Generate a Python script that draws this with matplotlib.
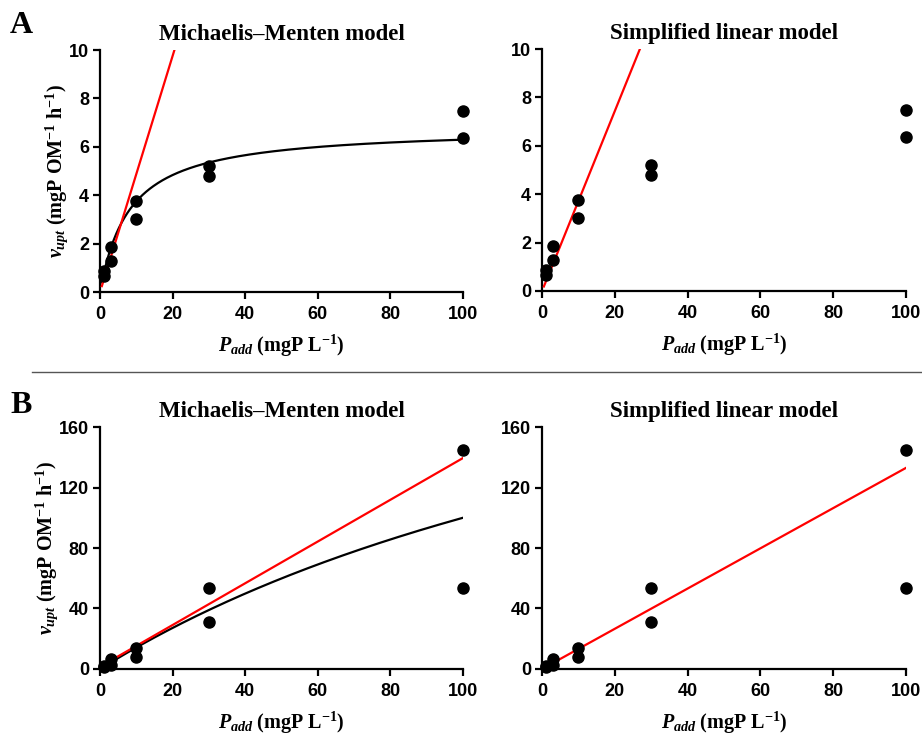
import numpy as np
import matplotlib.pyplot as plt
from matplotlib.lines import Line2D

plt.rcParams['mathtext.fontset'] = 'custom'
plt.rcParams['mathtext.rm'] = 'Liberation Serif:bold'
plt.rcParams['mathtext.it'] = 'Liberation Serif:italic:bold'
plt.rcParams['mathtext.bf'] = 'Liberation Serif:bold'
plt.rcParams['mathtext.default'] = 'rm'

# Data
p_add = [1, 1, 3, 3, 10, 10, 30, 30, 100, 100]
v_upt_a = [0.85, 0.65, 1.85, 1.3, 3.75, 3.0, 5.2, 4.8, 7.5, 6.35]
v_upt_b = [2.0, 1.0, 6.8, 2.6, 13.6, 7.7, 53.8, 31.2, 144.5, 53.8]

# Fitted parameters (estimated from the drawn curves)
mm_a = dict(vmax=6.81, km=8.17)
mm_b = dict(vmax=303.0, km=203.0)
lin_mm_a = dict(slope=0.488, icpt=0.0)
lin_mm_b = dict(slope=1.38, icpt=1.5)
lin_a = dict(slope=0.372, icpt=0.0)
lin_b = dict(slope=1.33, icpt=0.0)

titles = ['Michaelis\u2013Menten model', 'Simplified linear model']
xticks = [0, 20, 40, 60, 80, 100]
yticks_a = [0, 2, 4, 6, 8, 10]
yticks_b = [0, 40, 80, 120, 160]

fig = plt.figure(figsize=(9.22, 7.38), dpi=100)

serif_b = dict(family='Liberation Serif', weight='bold')
ylab = r'$\mathit{v}_{\mathit{upt}}$ (mgP OM$^{-1}$ h$^{-1}$)'
xlab = r'$\mathit{P}_{\mathit{add}}$ (mgP L$^{-1}$)'

pos = {
    ('A', 0): [0.1085, 0.6043, 0.3937, 0.3279],
    ('A', 1): [0.5879, 0.6057, 0.3948, 0.3279],
    ('B', 0): [0.1085, 0.0935, 0.3937, 0.3279],
    ('B', 1): [0.5879, 0.0935, 0.3948, 0.3279],
}


def style(ax, yticks):
    for s in ['top', 'right']:
        ax.spines[s].set_visible(False)
    for s in ['left', 'bottom']:
        ax.spines[s].set_linewidth(1.6)
    ax.set_xlim(0, 100)
    ax.set_ylim(yticks[0], yticks[-1])
    ax.set_xticks(xticks)
    ax.set_yticks(yticks)
    ax.tick_params(width=1.6, length=5, direction='out')
    ax.tick_params(axis='x', pad=5)
    ax.tick_params(axis='y', pad=3)
    for lab in ax.get_xticklabels() + ax.get_yticklabels():
        lab.set_fontfamily('Liberation Sans')
        lab.set_fontweight('bold')
        lab.set_fontsize(13)


for panel, vals, yt, mm, lmm, lin in [('A', v_upt_a, yticks_a, mm_a, lin_mm_a, lin_a),
                                     ('B', v_upt_b, yticks_b, mm_b, lin_mm_b, lin_b)]:
    for i in range(2):
        ax = fig.add_axes(pos[(panel, i)])
        xs = np.linspace(0.5, 100, 400)
        if i == 0:
            ax.plot(xs, mm['vmax'] * xs / (mm['km'] + xs), color='black', lw=1.6, zorder=3)
            ax.plot(xs, lmm['slope'] * xs + lmm['icpt'], color='#ff0000', lw=1.6, zorder=4)
        else:
            ax.plot(xs, lin['slope'] * xs + lin['icpt'], color='#ff0000', lw=1.6, zorder=4)
        ax.plot(p_add, vals, 'o', color='black', ms=8, clip_on=False, zorder=5)
        style(ax, yt)
        ax.set_title(titles[i], fontsize=16.5, pad=7, **serif_b)
        ax.set_xlabel(xlab, fontsize=14.5, labelpad=7, **serif_b)
        if i == 0:
            ax.set_ylabel(ylab, fontsize=14.5, labelpad=-1, **serif_b)

fig.text(0.011, 0.955, 'A', fontsize=23, **serif_b)
fig.text(0.011, 0.44, 'B', fontsize=23, **serif_b)
fig.add_artist(Line2D([0.035, 1.0], [0.496, 0.496], color='#555555', lw=1.0,
                      transform=fig.transFigure))

fig.savefig('out.png', dpi=100)
